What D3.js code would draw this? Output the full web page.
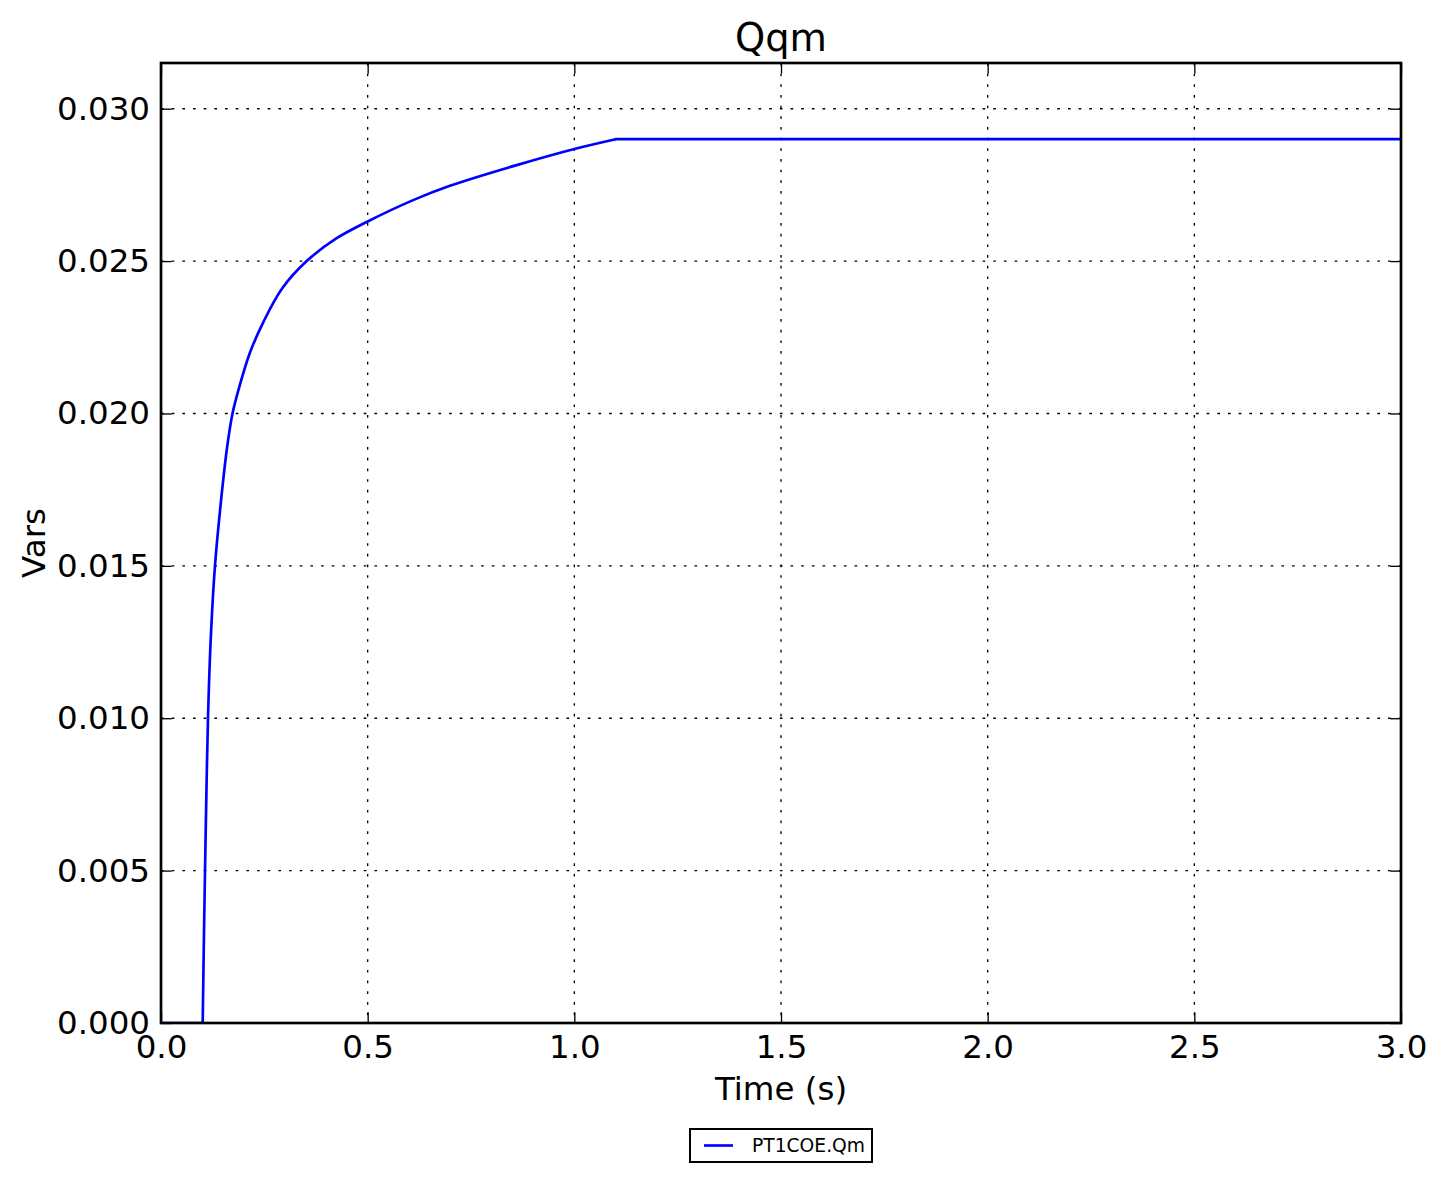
<!DOCTYPE html>
<html>
<head>
<meta charset="utf-8">
<script src="https://cdn.jsdelivr.net/npm/d3@7"></script>
<style>
  html, body { margin: 0; padding: 0; background: #fff; }
  svg { display: block; font-family: "DejaVu Sans", sans-serif; }
</style>
</head>
<body>
<svg id="chart" width="1445" height="1182"></svg>
<script>
// ---- Data ----
const chartTitle = "Qqm";
const xLabel = "Time (s)";
const yLabel = "Vars";
const seriesName = "PT1COE.Qm";
const timeValues = [0, 0.1009, 0.1035, 0.1065, 0.1098, 0.1137, 0.1200, 0.1306, 0.1480, 0.1600, 0.1730, 0.1900, 0.2153, 0.2476, 0.2930, 0.3525, 0.4250, 0.5000, 0.6100, 0.6990, 0.8606, 1.0000, 1.1000, 3.0];
const qmValues   = [0, 0,      0.0025, 0.0050, 0.0075, 0.0100, 0.0125, 0.0150, 0.0175, 0.0189, 0.0200, 0.0209, 0.0220, 0.0230, 0.0241, 0.0250, 0.02575, 0.0263, 0.0270, 0.02747, 0.02815, 0.02868, 0.0290, 0.0290];
const xTicks = [0, 0.5, 1.0, 1.5, 2.0, 2.5, 3.0];
const yTicks = [0, 0.005, 0.010, 0.015, 0.020, 0.025, 0.030];
const xDomain = [0, 3];
const yDomain = [0, 0.0315];
const riseStart = 0.1009, riseEnd = 1.1;  // corners of the trace (flat -> rise -> flat)

// ---- Layout ----
const pL = 161, pR = 1401, pT = 63, pB = 1023;
const svg = d3.select("#chart");
const x = d3.scaleLinear().domain(xDomain).range([pL, pR]);
const y = d3.scaleLinear().domain(yDomain).range([pB, pT]);
const tickLen = 10.7;

// grid
const grid = svg.append("g");
grid.selectAll("line.gx").data(xTicks).enter().append("line")
  .attr("x1", d => x(d)).attr("x2", d => x(d)).attr("y1", pT).attr("y2", pB)
  .attr("stroke", "#000").attr("stroke-width", 1.33).attr("stroke-dasharray", "2.67,8");
grid.selectAll("line.gy").data(yTicks).enter().append("line")
  .attr("x1", pL).attr("x2", pR).attr("y1", d => y(d)).attr("y2", d => y(d))
  .attr("stroke", "#000").attr("stroke-width", 1.33).attr("stroke-dasharray", "2.67,8");

// data line: flat / smooth rise / flat, each from the same arrays
const data = timeValues.map((t, i) => ({ t, v: qmValues[i] }));
svg.append("defs").append("clipPath").attr("id", "clip")
  .append("rect").attr("x", pL).attr("y", pT).attr("width", pR - pL).attr("height", pB - pT);
const lineLinear = d3.line().x(d => x(d.t)).y(d => y(d.v));
const lineSmooth = d3.line().x(d => x(d.t)).y(d => y(d.v)).curve(d3.curveCatmullRom.alpha(0.5));
const segs = [
  { pts: data.filter(d => d.t <= riseStart), gen: lineLinear },
  { pts: data.filter(d => d.t >= riseStart && d.t <= riseEnd), gen: lineSmooth },
  { pts: data.filter(d => d.t >= riseEnd), gen: lineLinear }
];
const lineG = svg.append("g").attr("clip-path", "url(#clip)");
segs.forEach(s => {
  lineG.append("path").datum(s.pts)
    .attr("fill", "none").attr("stroke", "#0000ff").attr("stroke-width", 2.67)
    .attr("stroke-linejoin", "round").attr("stroke-linecap", "round")
    .attr("d", s.gen);
});

// axes (inward ticks on all sides)
const fmtX = d3.format(".1f"), fmtY = d3.format(".3f");
svg.append("g").attr("transform", `translate(0,${pB})`)
  .call(d3.axisBottom(x).tickValues(xTicks).tickFormat(fmtX).tickSizeInner(-tickLen).tickSizeOuter(0).tickPadding(12))
  .call(g => g.select(".domain").remove())
  .call(g => g.selectAll("line").attr("stroke-width", 1.33))
  .call(g => g.selectAll("text").attr("font-size", 32.5).attr("font-family", "DejaVu Sans").attr("fill", "#000"));
svg.append("g").attr("transform", `translate(0,${pT})`)
  .call(d3.axisTop(x).tickValues(xTicks).tickFormat("").tickSizeInner(-tickLen).tickSizeOuter(0))
  .call(g => g.select(".domain").remove())
  .call(g => g.selectAll("line").attr("stroke-width", 1.33));
svg.append("g").attr("transform", `translate(${pL},0)`)
  .call(d3.axisLeft(y).tickValues(yTicks).tickFormat(fmtY).tickSizeInner(-tickLen).tickSizeOuter(0).tickPadding(11))
  .call(g => g.select(".domain").remove())
  .call(g => g.selectAll("line").attr("stroke-width", 1.33))
  .call(g => g.selectAll("text").attr("font-size", 32.5).attr("font-family", "DejaVu Sans").attr("fill", "#000"));
svg.append("g").attr("transform", `translate(${pR},0)`)
  .call(d3.axisRight(y).tickValues(yTicks).tickFormat("").tickSizeInner(-tickLen).tickSizeOuter(0))
  .call(g => g.select(".domain").remove())
  .call(g => g.selectAll("line").attr("stroke-width", 1.33));

// frame
svg.append("rect").attr("x", pL).attr("y", pT).attr("width", pR - pL).attr("height", pB - pT)
  .attr("fill", "none").attr("stroke", "#000").attr("stroke-width", 2.67);

// title & labels
svg.append("text").attr("x", (pL + pR) / 2).attr("y", 51).attr("text-anchor", "middle")
  .attr("font-size", 38.4).attr("fill", "#000").text(chartTitle);
svg.append("text").attr("x", (pL + pR) / 2).attr("y", 1100).attr("text-anchor", "middle")
  .attr("font-size", 32.5).attr("fill", "#000").text(xLabel);
svg.append("text").attr("transform", `translate(45,${(pT + pB) / 2}) rotate(-90)`)
  .attr("text-anchor", "middle").attr("font-size", 32.5).attr("fill", "#000").text(yLabel);

// legend
const lg = svg.append("g");
lg.append("rect").attr("x", 690).attr("y", 1129).attr("width", 182).attr("height", 33)
  .attr("fill", "#fff").attr("stroke", "#000").attr("stroke-width", 2);
lg.append("line").attr("x1", 704).attr("x2", 733).attr("y1", 1145.5).attr("y2", 1145.5)
  .attr("stroke", "#0000ff").attr("stroke-width", 2.67);
lg.append("text").attr("x", 752).attr("y", 1152).attr("font-size", 18.7).attr("fill", "#000").text(seriesName);
</script>
</body>
</html>
